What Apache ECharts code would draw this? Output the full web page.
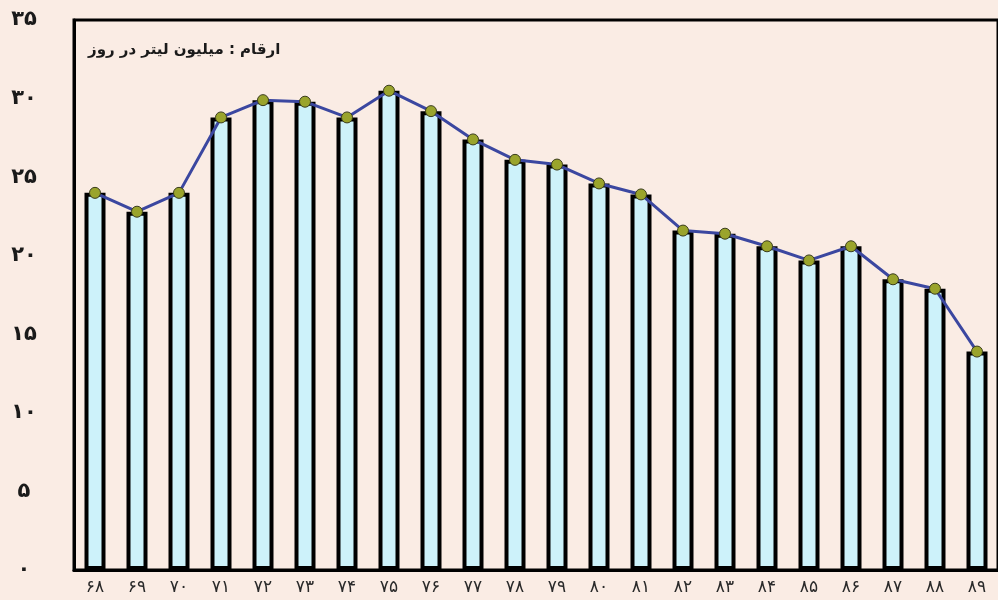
<!DOCTYPE html>
<html>
<head>
<meta charset="utf-8">
<script src="https://cdn.jsdelivr.net/npm/echarts@6/dist/echarts.min.js"></script>
<style>
  html, body { margin: 0; padding: 0; background: #faece4; }
  #main { width: 998px; height: 600px; }
</style>
</head>
<body>
<div id="main"></div>
<script>
// سال‌ها (محور افقی)
var years = ['۶۸', '۶۹', '۷۰', '۷۱', '۷۲', '۷۳', '۷۴', '۷۵', '۷۶', '۷۷', '۷۸',
             '۷۹', '۸۰', '۸۱', '۸۲', '۸۳', '۸۴', '۸۵', '۸۶', '۸۷', '۸۸', '۸۹'];
// میلیون لیتر در روز
var values = [24.0, 22.8, 24.0, 28.8, 29.9, 29.8, 28.8, 30.5, 29.2, 27.4, 26.1,
              25.8, 24.6, 23.9, 21.6, 21.4, 20.6, 19.7, 20.6, 18.5, 17.9, 13.9];
var faDigits = ['۰', '۱', '۲', '۳', '۴', '۵', '۶', '۷', '۸', '۹'];
var unitText = 'ارقام : میلیون لیتر در روز';

function toFa(n) {
    return String(n).replace(/[0-9]/g, function (d) { return faDigits[+d]; });
}

var chart = echarts.init(document.getElementById('main'));
var option = {
    backgroundColor: '#faece4',
    animation: false,
    grid: {
        left: 74,
        right: -3,
        top: 20,
        bottom: 30,
        show: true,
        borderColor: '#000',
        borderWidth: 3,
        backgroundColor: 'transparent'
    },
    graphic: [{
        type: 'text',
        left: 88,
        top: 43,
        style: {
            text: unitText,
            font: 'bold 15px "DejaVu Sans"',
            fill: '#1a1a1a'
        }
    }],
    xAxis: {
        type: 'category',
        data: years,
        axisLine: { lineStyle: { color: '#000', width: 3 } },
        axisTick: { show: false },
        axisLabel: {
            margin: 9,
            fontSize: 17,
            fontFamily: 'DejaVu Sans',
            color: '#2a2a2a'
        }
    },
    yAxis: {
        type: 'value',
        min: 0,
        max: 35,
        interval: 5,
        splitLine: { show: false },
        axisTick: { show: false },
        axisLine: { show: true, lineStyle: { color: '#000', width: 3 } },
        axisLabel: {
            margin: 50,
            fontSize: 21,
            fontWeight: 'bold',
            fontFamily: 'DejaVu Sans',
            color: '#1a1a1a',
            align: 'center',
            formatter: function (v) { return toFa(v); }
        }
    },
    series: [{
        type: 'bar',
        data: values,
        barWidth: 21,
        itemStyle: {
            color: '#cdf2fa',
            borderColor: '#000',
            borderWidth: 4
        },
        z: 2
    }, {
        type: 'line',
        data: values,
        symbol: 'circle',
        symbolSize: 11,
        lineStyle: { color: '#3b47a0', width: 3 },
        itemStyle: { color: '#9aa42c', borderColor: '#3a3d1c', borderWidth: 1 },
        z: 3
    }]
};
chart.setOption(option);
</script>
</body>
</html>
